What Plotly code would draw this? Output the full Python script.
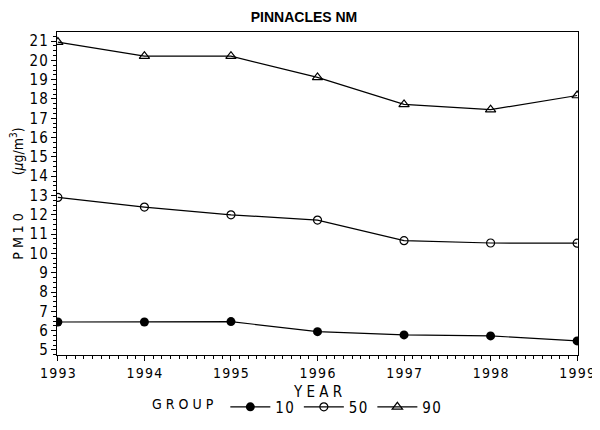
import plotly.graph_objects as go

years = [1993, 1994, 1995, 1996, 1997, 1998, 1999]
g10 = [6.45, 6.45, 6.47, 5.95, 5.78, 5.73, 5.47]
g50 = [12.9, 12.4, 12.0, 11.73, 10.66, 10.54, 10.53]
g90 = [20.95, 20.22, 20.22, 19.12, 17.72, 17.45, 18.18]
HS = "\u200a"
year_labels = [HS.join(str(y)) for y in years]
y_ticks = list(range(5, 22))
y_labels = [HS.join(str(v)) for v in y_ticks]

FONT = "DejaVu Sans Condensed, Liberation Sans Narrow, sans-serif"

fig = go.Figure()
fig.add_trace(go.Scatter(x=years, y=g10, mode="lines+markers", name="1" + HS + "0",
                         line=dict(color="black", width=1.2),
                         marker=dict(symbol="circle", size=9, color="black")))
fig.add_trace(go.Scatter(x=years, y=g50, mode="lines+markers", name="5" + HS + "0",
                         line=dict(color="black", width=1.2),
                         marker=dict(symbol="circle-open", size=8, color="black", line=dict(width=1.2))))
fig.add_trace(go.Scatter(x=years, y=g90, mode="lines+markers", name="9" + HS + "0",
                         line=dict(color="black", width=1.2),
                         marker=dict(symbol="triangle-up-open", size=9, color="black", line=dict(width=1.2))))

fig.update_layout(
    width=592, height=414,
    margin=dict(l=49, r=22, t=24, b=67),
    paper_bgcolor="white", plot_bgcolor="white",
    title=dict(text="<b>PINNACLES NM</b>", x=0.5, xanchor="center", y=0.99, yanchor="top",
               font=dict(family="Liberation Sans, Arial, sans-serif", size=14, color="black")),
    font=dict(family=FONT, color="black"),
    showlegend=True,
    legend=dict(orientation="h", x=0.49, xanchor="center", y=0.036, yanchor="middle",
                xref="container", yref="container",
                title=dict(text="G R O U P ", font=dict(size=14, family=FONT)),
                font=dict(size=15, family=FONT), itemwidth=40),
    xaxis=dict(range=[1992.99, 1999.01], tickmode="array", tickvals=years, ticktext=year_labels,
               ticks="outside", ticklen=5, tickwidth=1.2, tickcolor="black",
               showline=True, linecolor="black", linewidth=1.2, mirror=True,
               showgrid=False, zeroline=False, automargin=False, ticklabeloverflow="allow",
               tickfont=dict(size=14, family=FONT),
               minor=dict(dtick=0.1, ticks="outside", ticklen=3, tickcolor="black", tickwidth=1, showgrid=False)),
    yaxis=dict(range=[4.74, 21.47], tickmode="array", tickvals=y_ticks, ticktext=y_labels,
               ticks="outside", ticklen=5, tickwidth=1.2, tickcolor="black",
               showline=True, linecolor="black", linewidth=1.2, mirror=True,
               showgrid=False, zeroline=False, automargin=False, ticklabeloverflow="allow",
               tickfont=dict(size=15, family=FONT),
               minor=dict(dtick=0.25, ticks="outside", ticklen=3, tickcolor="black", tickwidth=1, showgrid=False),
               title=dict(text="P M 1 0\u2003\u2003\u2003(<i>μ</i>g/m<sup>3</sup>)", font=dict(size=14, family=FONT), standoff=8)),
)
fig.add_annotation(text="Y E A R", xref="paper", yref="paper", x=0.5, y=-0.1146,
                   xanchor="center", yanchor="middle", showarrow=False,
                   font=dict(size=15, family=FONT, color="black"))

fig.write_html("out.html")
